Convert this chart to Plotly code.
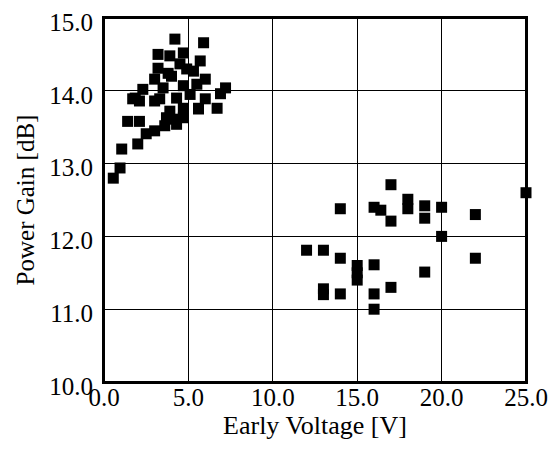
import plotly.graph_objects as go

# measured devices: Early voltage [V] vs power gain [dB]
early_v = [
    0.55, 0.95, 1.05, 1.4, 1.7, 1.85, 2.0, 2.1, 2.1, 2.3, 2.5, 3.0, 3.0, 3.0,
    3.2, 3.2, 3.3, 3.5, 3.6, 3.7, 3.8, 3.9, 3.9, 4.1, 4.2, 4.3, 4.3, 4.5,
    4.7, 4.7, 4.7, 4.7, 5.3, 5.5, 5.6, 5.6, 5.7, 5.9, 6.0, 6.0, 6.7, 6.9,
    7.2, 4.0, 4.9, 5.1,
    12.0, 13.0, 13.0, 13.0, 14.0, 14.0, 14.0, 15.0, 15.0, 15.0, 16.0, 16.0,
    16.0, 16.0, 16.4, 17.0, 17.0, 17.0, 18.0, 18.0, 19.0, 19.0, 19.0, 20.0,
    20.0, 22.0, 22.0, 25.0,
]
power_gain = [
    12.80, 12.94, 13.20, 13.58, 13.89, 13.90, 13.27, 13.86, 13.58, 14.02, 13.41, 14.16, 13.86, 13.45,
    14.50, 14.31, 13.89, 14.04, 13.52, 13.63, 14.24, 14.48, 13.72, 13.61, 14.71, 13.90, 13.54, 14.37,
    14.52, 14.07, 13.76, 13.63, 14.27, 14.09, 13.75, 13.76, 14.41, 14.66, 14.16, 13.89, 13.76, 13.96,
    14.04, 14.20, 14.30, 13.95,
    11.81, 11.81, 11.28, 11.20, 12.38, 11.70, 11.21, 11.60, 11.50, 11.40, 12.40, 11.61,
    11.21, 11.00, 12.36, 12.71, 12.21, 11.30, 12.51, 12.38, 12.42, 12.25, 11.51, 12.40,
    12.00, 12.30, 11.70, 12.60,
]

x_ticks = [0, 5, 10, 15, 20, 25]
y_ticks = [10, 11, 12, 13, 14, 15]

fig = go.Figure(go.Scatter(
    x=early_v, y=power_gain, mode="markers",
    marker=dict(symbol="square", size=11, color="black"),
    cliponaxis=False,
))

serif = "Liberation Serif, Times New Roman, serif"

# page body adds 8px offset, so the figure is sized to fit inside the window
fig.update_layout(
    width=542, height=439,
    margin=dict(l=96, r=24, t=10, b=65),
    paper_bgcolor="white", plot_bgcolor="white",
    showlegend=False,
    font=dict(family=serif, size=24, color="black"),
)
# frame around the plot area
fig.add_shape(type="rect", xref="paper", yref="paper", x0=0, y0=0, x1=1, y1=1,
              line=dict(color="black", width=2), layer="above")
fig.update_xaxes(
    range=[0, 25], tickvals=x_ticks, ticktext=[f"{v:.1f}" for v in x_ticks],
    tickfont=dict(size=25), ticklabeloverflow="allow", ticklabelstandoff=-8,
    showgrid=True, gridcolor="black", gridwidth=1.3,
    showline=True, linecolor="black", linewidth=2, mirror=True,
    zeroline=False, ticks="", automargin=False,
    title=dict(text="Early Voltage [V]", standoff=5, font=dict(size=26)),
)
fig.update_yaxes(
    range=[10, 15], tickvals=y_ticks, ticktext=[f"{v:.1f}" for v in y_ticks],
    tickfont=dict(size=25), ticklabeloverflow="allow", ticklabelshift=4,
    showgrid=True, gridcolor="black", gridwidth=1.3,
    showline=True, linecolor="black", linewidth=2, mirror=True,
    zeroline=False, ticks="", ticklabelstandoff=4, automargin=False,
    title=dict(text="Power Gain [dB]", standoff=8, font=dict(size=25)),
)

fig.write_html("out.html")
